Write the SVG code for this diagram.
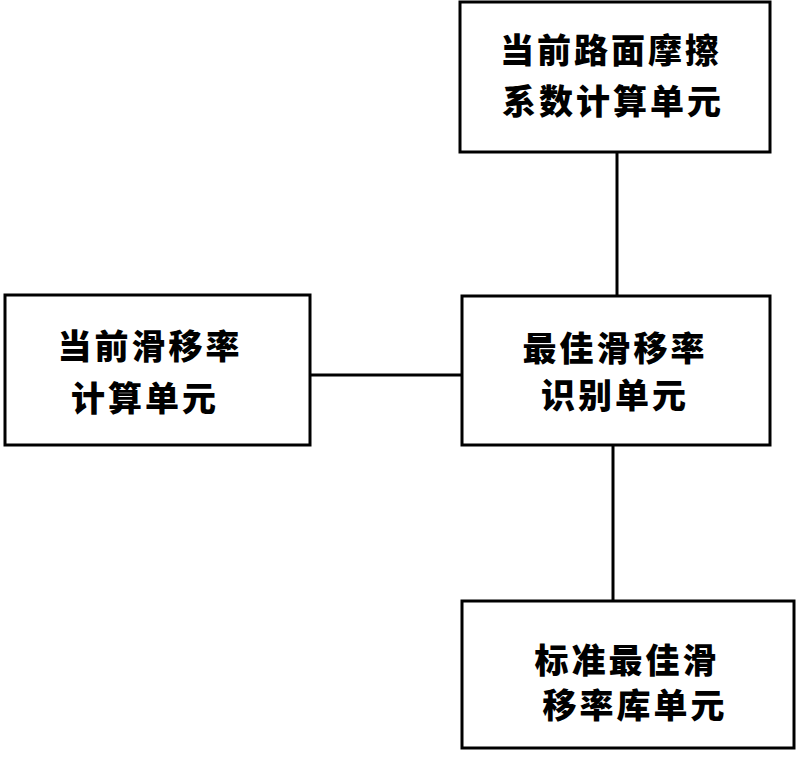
<svg xmlns="http://www.w3.org/2000/svg" width="800" height="758" viewBox="0 0 800 758">
<style>
.box{fill:#fff;stroke:#000;stroke-width:3}
.conn{stroke:#000;stroke-width:3;fill:none}
.t{font-family:"Noto Sans CJK SC","Noto Sans CJK JP",sans-serif;font-weight:900;font-size:34px;letter-spacing:3px;text-anchor:middle;dominant-baseline:central;fill:#000}
</style>
<rect width="800" height="758" fill="#fff"/>
<g id="connectors">
<line class="conn" x1="617" y1="152" x2="617" y2="297"/>
<line class="conn" x1="310" y1="375" x2="462" y2="375"/>
<line class="conn" x1="613" y1="445" x2="613" y2="601"/>
</g>
<g id="friction">
<rect class="box" x="460" y="2" width="310" height="150"/>
<text class="t" x="611" y="48">当前路面摩擦</text>
<text class="t" x="613" y="99">系数计算单元</text>
</g>
<g id="current-slip">
<rect class="box" x="5" y="295" width="305" height="150"/>
<text class="t" x="150" y="344">当前滑移率</text>
<text class="t" x="145" y="396">计算单元</text>
</g>
<g id="best-slip">
<rect class="box" x="462" y="296" width="308" height="149"/>
<text class="t" x="615" y="346">最佳滑移率</text>
<text class="t" x="615" y="393">识别单元</text>
</g>
<g id="library">
<rect class="box" x="462" y="601" width="332" height="147"/>
<text class="t" x="627" y="658">标准最佳滑</text>
<text class="t" x="635" y="703">移率库单元</text>
</g>
</svg>
